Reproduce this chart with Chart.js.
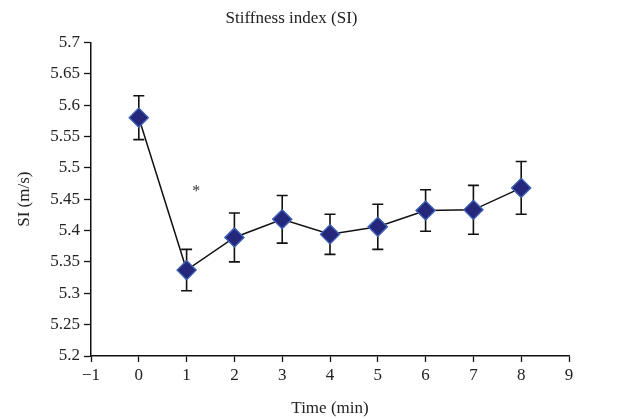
<!DOCTYPE html>
<html>
<head>
<meta charset="utf-8">
<script src="https://cdn.jsdelivr.net/npm/chart.js@4"></script>
<style>
  html, body { margin: 0; padding: 0; background: #fff; }
  #wrap { width: 630px; height: 419px; }
</style>
</head>
<body>
<div id="wrap"><canvas id="si-chart" width="630" height="419"></canvas></div>
<script>
// time points (min) and mean stiffness index with error (+/-)
const timeMin = [0, 1, 2, 3, 4, 5, 6, 7, 8];
const siMean = [5.580, 5.337, 5.389, 5.418, 5.394, 5.406, 5.432, 5.433, 5.468];
const siErr = [0.035, 0.033, 0.039, 0.038, 0.032, 0.036, 0.033, 0.039, 0.042];
// significance marker
const starPos = { x: 1.2, y: 5.462 };

const serif = "'Liberation Serif', 'DejaVu Serif', serif";

// error bars drawn through the chart scales
const errorBars = {
    id: 'errorBars',
    afterDatasetsDraw(chart) {
        const ctx = chart.ctx;
        const xs = chart.scales.x, ys = chart.scales.y;
        ctx.save();
        ctx.strokeStyle = '#111';
        ctx.lineWidth = 1.6;
        timeMin.forEach((t, i) => {
            const px = xs.getPixelForValue(t);
            const top = ys.getPixelForValue(siMean[i] + siErr[i]);
            const bot = ys.getPixelForValue(siMean[i] - siErr[i]);
            ctx.beginPath();
            ctx.moveTo(px, top); ctx.lineTo(px, bot);
            ctx.moveTo(px - 5.5, top); ctx.lineTo(px + 5.5, top);
            ctx.moveTo(px - 5.5, bot); ctx.lineTo(px + 5.5, bot);
            ctx.stroke();
        });
        ctx.restore();
    }
};

const starLabel = {
    id: 'starLabel',
    afterDraw(chart) {
        const ctx = chart.ctx;
        ctx.save();
        ctx.fillStyle = '#333';
        ctx.font = '16px ' + serif;
        ctx.textAlign = 'center';
        ctx.textBaseline = 'middle';
        ctx.fillText('*', chart.scales.x.getPixelForValue(starPos.x), chart.scales.y.getPixelForValue(starPos.y));
        ctx.restore();
    }
};

// redraw markers on top of the error bars
const markersOnTop = {
    id: 'markersOnTop',
    afterDatasetsDraw(chart) {
        chart.getDatasetMeta(0).data.forEach(p => p.draw(chart.ctx, chart.chartArea));
    }
};

new Chart(document.getElementById('si-chart'), {
    type: 'scatter',
    data: {
        datasets: [{
            data: timeMin.map((t, i) => ({ x: t, y: siMean[i] })),
            showLine: true,
            borderColor: '#111',
            borderWidth: 1.5,
            pointStyle: 'rectRot',
            pointRadius: 9.5,
            pointBackgroundColor: '#25277a',
            pointBorderColor: '#4566b8',
            pointBorderWidth: 1.2,
            clip: false
        }]
    },
    options: {
        responsive: false,
        animation: false,
        layout: { padding: { top: 2, right: 61, left: 14, bottom: 0 } },
        plugins: {
            legend: { display: false },
            tooltip: { enabled: false },
            title: {
                display: true,
                text: 'Stiffness index (SI)',
                color: '#222',
                font: { family: serif, size: 17, weight: 'normal' },
                padding: { top: 6, bottom: 14 }
            }
        },
        scales: {
            x: {
                type: 'linear',
                min: -1,
                max: 9,
                ticks: {
                    stepSize: 1,
                    color: '#222',
                    font: { family: serif, size: 17 },
                    padding: 3,
                    callback: v => String(v).replace('-', '\u2212')
                },
                grid: { drawOnChartArea: false, color: '#111', tickLength: 6, tickWidth: 1.3 },
                border: { color: '#111', width: 1.5 },
                title: {
                    display: true,
                    text: 'Time (min)',
                    color: '#222',
                    font: { family: serif, size: 17 },
                    padding: { top: 2, bottom: 0 }
                },
                afterFit: s => { s.height = 63; }
            },
            y: {
                min: 5.2,
                max: 5.7,
                ticks: {
                    stepSize: 0.05,
                    color: '#222',
                    font: { family: serif, size: 17 },
                    padding: 4,
                    callback: v => String(+v.toFixed(2))
                },
                grid: { drawOnChartArea: false, color: '#111', tickLength: 7, tickWidth: 1.3 },
                border: { color: '#111', width: 1.5 },
                title: {
                    display: true,
                    text: 'SI (m/s)',
                    color: '#222',
                    font: { family: serif, size: 17 },
                    padding: { top: 0, bottom: 6 }
                },
                afterFit: s => { s.width = 77; }
            }
        }
    },
    plugins: [errorBars, markersOnTop, starLabel]
});
</script>
</body>
</html>
